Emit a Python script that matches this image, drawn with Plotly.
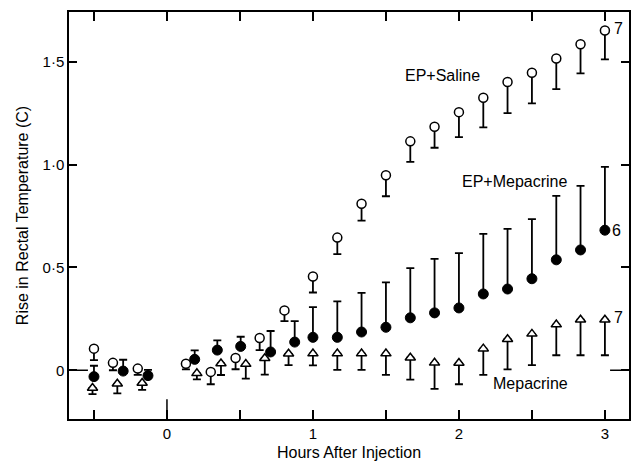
import plotly.graph_objects as go

# ---- data ----
# EP + Saline (open circles, error bars downward)
saline_x = [-0.50, -0.37, -0.20, 0.13, 0.30, 0.47, 0.635, 0.805, 1.0, 1.167, 1.333, 1.5,
            1.667, 1.833, 2.0, 2.167, 2.333, 2.5, 2.667, 2.833, 3.0]
saline_y = [0.105, 0.036, 0.008, 0.032, -0.008, 0.060, 0.157, 0.291, 0.456, 0.645, 0.810, 0.948,
            1.113, 1.184, 1.255, 1.325, 1.402, 1.447, 1.516, 1.585, 1.652]
saline_low = [0.049, 0.0, -0.022, 0.004, -0.068, 0.005, 0.098, 0.239, 0.378, 0.565, 0.728, 0.846,
              1.013, 1.082, 1.134, 1.181, 1.250, 1.298, 1.367, 1.444, 1.512]

# EP + Mepacrine (filled circles, error bars upward)
epmep_x = [-0.50, -0.30, -0.13, 0.19, 0.345, 0.505, 0.71, 0.875, 1.0, 1.167, 1.333, 1.5,
           1.667, 1.833, 2.0, 2.167, 2.333, 2.5, 2.667, 2.833, 3.0]
epmep_y = [-0.031, -0.004, -0.026, 0.053, 0.098, 0.116, 0.089, 0.137, 0.160, 0.160, 0.186, 0.209,
           0.255, 0.279, 0.303, 0.371, 0.395, 0.445, 0.537, 0.585, 0.681]
epmep_high = [0.022, 0.051, 0.002, 0.097, 0.145, 0.163, 0.191, 0.239, 0.307, 0.335, 0.376, 0.427,
              0.497, 0.542, 0.570, 0.663, 0.687, 0.735, 0.848, 0.897, 0.989]

# Mepacrine (open triangles, error bars downward)
mep_x = [-0.51, -0.34, -0.17, 0.205, 0.37, 0.54, 0.67, 0.833, 1.0, 1.167, 1.333, 1.5,
         1.667, 1.833, 2.0, 2.167, 2.333, 2.5, 2.667, 2.833, 3.0]
mep_y = [-0.086, -0.066, -0.062, -0.015, 0.033, 0.030, 0.058, 0.080, 0.081, 0.081, 0.081, 0.081,
         0.061, 0.036, 0.035, 0.105, 0.151, 0.177, 0.222, 0.246, 0.246]
mep_low = [-0.116, -0.112, -0.095, -0.044, -0.023, -0.041, -0.021, 0.025, 0.024, 0.002, 0.002, -0.022,
           -0.046, -0.091, -0.068, -0.022, 0.004, 0.025, 0.073, 0.073, 0.073]

# group sizes shown at the ends of the series
n_saline, n_epmep, n_mep = "7", "6", "7"

x_tickvals = [-0.5, 0, 0.5, 1, 1.5, 2, 2.5, 3]
x_ticktext = ["", "0", "", "1", "", "2", "", "3"]
y_tickvals = [0, 0.5, 1.0, 1.5]
y_ticktext = ["0", "0·5", "1·0", "1·5"]

FONT = "Liberation Sans, Arial, Helvetica, sans-serif"

fig = go.Figure()

fig.add_trace(go.Scatter(
    x=saline_x, y=saline_y, mode="markers", name="EP+Saline",
    marker=dict(symbol="circle", size=9, color="white", line=dict(color="black", width=1.5)),
    error_y=dict(type="data", symmetric=False,
                 array=[0] * len(saline_y),
                 arrayminus=[y - l for y, l in zip(saline_y, saline_low)],
                 color="black", thickness=1.8, width=4),
))
fig.add_trace(go.Scatter(
    x=epmep_x, y=epmep_y, mode="markers", name="EP+Mepacrine",
    marker=dict(symbol="circle", size=10, color="black", line=dict(color="black", width=1)),
    error_y=dict(type="data", symmetric=False,
                 array=[h - y for y, h in zip(epmep_y, epmep_high)],
                 arrayminus=[0] * len(epmep_y),
                 color="black", thickness=1.8, width=4),
))
fig.add_trace(go.Scatter(
    x=mep_x, y=mep_y, mode="markers", name="Mepacrine",
    marker=dict(symbol="triangle-up", size=9, color="white", line=dict(color="black", width=1.5)),
    error_y=dict(type="data", symmetric=False,
                 array=[0] * len(mep_y),
                 arrayminus=[y - l for y, l in zip(mep_y, mep_low)],
                 color="black", thickness=1.8, width=4),
))

ann_font = dict(family=FONT, size=16, color="black")
annotations = [
    dict(x=1.886, y=1.434, text="EP+Saline", showarrow=False, font=ann_font),
    dict(x=2.38, y=0.918, text="EP+Mepacrine", showarrow=False, font=ann_font),
    dict(x=2.49, y=-0.063, text="Mepacrine", showarrow=False, font=ann_font),
    dict(x=saline_x[-1], y=saline_y[-1], text=n_saline, showarrow=False,
         xanchor="left", xshift=7, yshift=2, font=ann_font),
    dict(x=epmep_x[-1], y=epmep_y[-1], text=n_epmep, showarrow=False,
         xanchor="left", xshift=5, font=ann_font),
    dict(x=mep_x[-1], y=mep_y[-1], text=n_mep, showarrow=False,
         xanchor="left", xshift=7, yshift=2, font=ann_font),
]

plot_w = 633 - 69 - 2
plot_h = 461 - 12 - 39
shapes = [
    dict(type="line", xref="paper", yref="y", x0=0, x1=19 / plot_w, y0=0, y1=0,
         line=dict(color="black", width=1.5)),
    dict(type="line", xref="paper", yref="y", x0=1 - 19 / plot_w, x1=1, y0=0, y1=0,
         line=dict(color="black", width=1.5)),
    dict(type="line", xref="x", yref="paper", x0=0, x1=0, y0=0, y1=20 / plot_h,
         line=dict(color="black", width=1.5)),
]

fig.update_layout(
    width=633, height=461,
    margin=dict(l=69, r=2, t=12, b=39),
    paper_bgcolor="white", plot_bgcolor="white",
    showlegend=False,
    font=dict(family=FONT, size=15, color="black"),
    annotations=annotations,
    shapes=shapes,
    xaxis=dict(
        range=[-0.671, 3.165], tickvals=x_tickvals, ticktext=x_ticktext,
        ticks="inside", ticklen=9, tickwidth=1.5, tickcolor="black",
        showline=True, linewidth=1.5, linecolor="black", mirror="ticks",
        showgrid=False, zeroline=False,
        tickfont=dict(family=FONT, size=15),
        title=dict(text="Hours After Injection", standoff=6,
                   font=dict(family=FONT, size=16)),
    ),
    yaxis=dict(
        range=[-0.237, 1.742], tickvals=y_tickvals, ticktext=y_ticktext,
        ticks="inside", ticklen=8, tickwidth=1.5, tickcolor="black",
        showline=True, linewidth=1.5, linecolor="black", mirror="ticks",
        showgrid=False, zeroline=False,
        tickfont=dict(family=FONT, size=15),
        title=dict(text="Rise in Rectal Temperature (C)", standoff=10,
                   font=dict(family=FONT, size=16)),
    ),
)

fig.write_html(
    "out.html",
    config={"displayModeBar": False},
    post_script="document.body.style.margin='0';document.body.style.overflow='hidden';",
)
